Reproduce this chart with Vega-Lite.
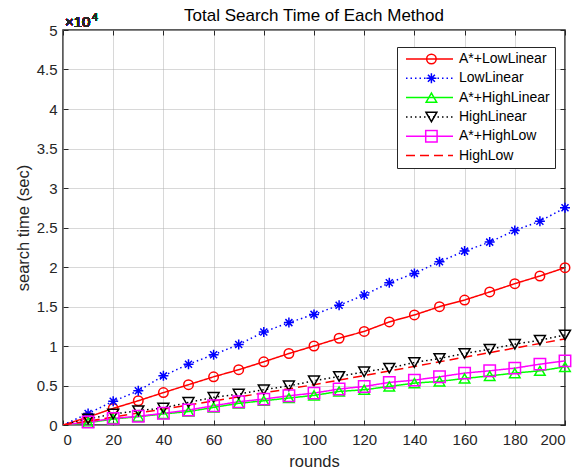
{
  "$schema": "https://vega.github.io/schema/vega-lite/v6.json",
  "width": 502,
  "height": 395,
  "autosize": {"type": "none"},
  "padding": {"left": 63, "top": 30, "right": 22, "bottom": 50},
  "background": "white",
  "title": {"text": "Total Search Time of Each Method", "fontSize": 17, "fontWeight": "normal", "font": "Liberation Sans", "color": "#000000", "offset": -12, "anchor": "middle"},
  "config": {
    "view": {"stroke": "#262626", "strokeWidth": 1.5},
    "font": "Liberation Sans"
  },
  "datasets": {
    "d": [
      {"method": "A*+LowLinear", "rounds": 0, "time": 0},
      {"method": "A*+LowLinear", "rounds": 10, "time": 1000},
      {"method": "A*+LowLinear", "rounds": 20, "time": 2100},
      {"method": "A*+LowLinear", "rounds": 30, "time": 3070},
      {"method": "A*+LowLinear", "rounds": 40, "time": 4100},
      {"method": "A*+LowLinear", "rounds": 50, "time": 5100},
      {"method": "A*+LowLinear", "rounds": 60, "time": 6100},
      {"method": "A*+LowLinear", "rounds": 70, "time": 7000},
      {"method": "A*+LowLinear", "rounds": 80, "time": 8000},
      {"method": "A*+LowLinear", "rounds": 90, "time": 9050},
      {"method": "A*+LowLinear", "rounds": 100, "time": 10000},
      {"method": "A*+LowLinear", "rounds": 110, "time": 10980},
      {"method": "A*+LowLinear", "rounds": 120, "time": 11850},
      {"method": "A*+LowLinear", "rounds": 130, "time": 13050},
      {"method": "A*+LowLinear", "rounds": 140, "time": 13930},
      {"method": "A*+LowLinear", "rounds": 150, "time": 14980},
      {"method": "A*+LowLinear", "rounds": 160, "time": 15820},
      {"method": "A*+LowLinear", "rounds": 170, "time": 16840},
      {"method": "A*+LowLinear", "rounds": 180, "time": 17890},
      {"method": "A*+LowLinear", "rounds": 190, "time": 18860},
      {"method": "A*+LowLinear", "rounds": 200, "time": 19910},
      {"method": "LowLinear", "rounds": 0, "time": 0},
      {"method": "LowLinear", "rounds": 10, "time": 1450},
      {"method": "LowLinear", "rounds": 20, "time": 3000},
      {"method": "LowLinear", "rounds": 30, "time": 4330},
      {"method": "LowLinear", "rounds": 40, "time": 6220},
      {"method": "LowLinear", "rounds": 50, "time": 7700},
      {"method": "LowLinear", "rounds": 60, "time": 8900},
      {"method": "LowLinear", "rounds": 70, "time": 10180},
      {"method": "LowLinear", "rounds": 80, "time": 11780},
      {"method": "LowLinear", "rounds": 90, "time": 12960},
      {"method": "LowLinear", "rounds": 100, "time": 14000},
      {"method": "LowLinear", "rounds": 110, "time": 15150},
      {"method": "LowLinear", "rounds": 120, "time": 16450},
      {"method": "LowLinear", "rounds": 130, "time": 18000},
      {"method": "LowLinear", "rounds": 140, "time": 19190},
      {"method": "LowLinear", "rounds": 150, "time": 20670},
      {"method": "LowLinear", "rounds": 160, "time": 22010},
      {"method": "LowLinear", "rounds": 170, "time": 23150},
      {"method": "LowLinear", "rounds": 180, "time": 24620},
      {"method": "LowLinear", "rounds": 190, "time": 25800},
      {"method": "LowLinear", "rounds": 200, "time": 27490},
      {"method": "A*+HighLinear", "rounds": 0, "time": 0},
      {"method": "A*+HighLinear", "rounds": 10, "time": 300},
      {"method": "A*+HighLinear", "rounds": 20, "time": 750},
      {"method": "A*+HighLinear", "rounds": 30, "time": 1050},
      {"method": "A*+HighLinear", "rounds": 40, "time": 1400},
      {"method": "A*+HighLinear", "rounds": 50, "time": 1700},
      {"method": "A*+HighLinear", "rounds": 60, "time": 2230},
      {"method": "A*+HighLinear", "rounds": 70, "time": 2740},
      {"method": "A*+HighLinear", "rounds": 80, "time": 3070},
      {"method": "A*+HighLinear", "rounds": 90, "time": 3410},
      {"method": "A*+HighLinear", "rounds": 100, "time": 3750},
      {"method": "A*+HighLinear", "rounds": 110, "time": 4250},
      {"method": "A*+HighLinear", "rounds": 120, "time": 4460},
      {"method": "A*+HighLinear", "rounds": 130, "time": 4880},
      {"method": "A*+HighLinear", "rounds": 140, "time": 5300},
      {"method": "A*+HighLinear", "rounds": 150, "time": 5520},
      {"method": "A*+HighLinear", "rounds": 160, "time": 5890},
      {"method": "A*+HighLinear", "rounds": 170, "time": 6220},
      {"method": "A*+HighLinear", "rounds": 180, "time": 6570},
      {"method": "A*+HighLinear", "rounds": 190, "time": 6860},
      {"method": "A*+HighLinear", "rounds": 200, "time": 7360},
      {"method": "HighLinear", "rounds": 0, "time": 0},
      {"method": "HighLinear", "rounds": 10, "time": 760},
      {"method": "HighLinear", "rounds": 20, "time": 1390},
      {"method": "HighLinear", "rounds": 30, "time": 1810},
      {"method": "HighLinear", "rounds": 40, "time": 2150},
      {"method": "HighLinear", "rounds": 50, "time": 2870},
      {"method": "HighLinear", "rounds": 60, "time": 3500},
      {"method": "HighLinear", "rounds": 70, "time": 3910},
      {"method": "HighLinear", "rounds": 80, "time": 4460},
      {"method": "HighLinear", "rounds": 90, "time": 4960},
      {"method": "HighLinear", "rounds": 100, "time": 5590},
      {"method": "HighLinear", "rounds": 110, "time": 6150},
      {"method": "HighLinear", "rounds": 120, "time": 6730},
      {"method": "HighLinear", "rounds": 130, "time": 7200},
      {"method": "HighLinear", "rounds": 140, "time": 7910},
      {"method": "HighLinear", "rounds": 150, "time": 8420},
      {"method": "HighLinear", "rounds": 160, "time": 9050},
      {"method": "HighLinear", "rounds": 170, "time": 9600},
      {"method": "HighLinear", "rounds": 180, "time": 10230},
      {"method": "HighLinear", "rounds": 190, "time": 10730},
      {"method": "HighLinear", "rounds": 200, "time": 11400},
      {"method": "A*+HighLow", "rounds": 0, "time": 0},
      {"method": "A*+HighLow", "rounds": 10, "time": 380},
      {"method": "A*+HighLow", "rounds": 20, "time": 840},
      {"method": "A*+HighLow", "rounds": 30, "time": 1100},
      {"method": "A*+HighLow", "rounds": 40, "time": 1480},
      {"method": "A*+HighLow", "rounds": 50, "time": 1890},
      {"method": "A*+HighLow", "rounds": 60, "time": 2440},
      {"method": "A*+HighLow", "rounds": 70, "time": 2950},
      {"method": "A*+HighLow", "rounds": 80, "time": 3280},
      {"method": "A*+HighLow", "rounds": 90, "time": 3700},
      {"method": "A*+HighLow", "rounds": 100, "time": 4040},
      {"method": "A*+HighLow", "rounds": 110, "time": 4550},
      {"method": "A*+HighLow", "rounds": 120, "time": 4880},
      {"method": "A*+HighLow", "rounds": 130, "time": 5390},
      {"method": "A*+HighLow", "rounds": 140, "time": 5680},
      {"method": "A*+HighLow", "rounds": 150, "time": 6100},
      {"method": "A*+HighLow", "rounds": 160, "time": 6570},
      {"method": "A*+HighLow", "rounds": 170, "time": 6860},
      {"method": "A*+HighLow", "rounds": 180, "time": 7200},
      {"method": "A*+HighLow", "rounds": 190, "time": 7700},
      {"method": "A*+HighLow", "rounds": 200, "time": 8120},
      {"method": "HighLow", "rounds": 0, "time": 0},
      {"method": "HighLow", "rounds": 10, "time": 500},
      {"method": "HighLow", "rounds": 20, "time": 1000},
      {"method": "HighLow", "rounds": 30, "time": 1510},
      {"method": "HighLow", "rounds": 40, "time": 2020},
      {"method": "HighLow", "rounds": 50, "time": 2530},
      {"method": "HighLow", "rounds": 60, "time": 3040},
      {"method": "HighLow", "rounds": 70, "time": 3550},
      {"method": "HighLow", "rounds": 80, "time": 4060},
      {"method": "HighLow", "rounds": 90, "time": 4580},
      {"method": "HighLow", "rounds": 100, "time": 5100},
      {"method": "HighLow", "rounds": 110, "time": 5680},
      {"method": "HighLow", "rounds": 120, "time": 6260},
      {"method": "HighLow", "rounds": 130, "time": 6840},
      {"method": "HighLow", "rounds": 140, "time": 7420},
      {"method": "HighLow", "rounds": 150, "time": 8000},
      {"method": "HighLow", "rounds": 160, "time": 8580},
      {"method": "HighLow", "rounds": 170, "time": 9160},
      {"method": "HighLow", "rounds": 180, "time": 9740},
      {"method": "HighLow", "rounds": 190, "time": 10320},
      {"method": "HighLow", "rounds": 200, "time": 10900}
    ]
  },
  "data": {"name": "d"},
  "layer": [
    {
      "mark": {"type": "line", "strokeWidth": 1.5, "clip": true},
      "encoding": {
        "x": {
          "field": "rounds", "type": "quantitative",
          "scale": {"domain": [0, 200], "nice": false, "zero": false},
          "axis": {
            "orient": "bottom", "values": [0, 20, 40, 60, 80, 100, 120, 140, 160, 180, 200],
            "grid": true, "gridColor": "#b0b0b0", "gridDash": [1, 1], "gridWidth": 1,
            "domain": false, "tickSize": -5, "tickColor": "#262626", "tickWidth": 1,
            "labelFontSize": 15, "labelColor": "#262626", "labelPadding": 12, "labelFont": "Liberation Sans",
            "title": "rounds", "titleFontSize": 16.5, "titleFontWeight": "normal", "titleColor": "#262626",
            "titleFont": "Liberation Sans", "titlePadding": 6
          }
        },
        "y": {
          "field": "time", "type": "quantitative",
          "scale": {"domain": [0, 50000], "nice": false},
          "axis": {
            "orient": "left", "values": [0, 5000, 10000, 15000, 20000, 25000, 30000, 35000, 40000, 45000, 50000],
            "labelExpr": "format(datum.value / 10000, '~g')",
            "grid": true, "gridColor": "#b0b0b0", "gridDash": [1, 1], "gridWidth": 1,
            "domain": false, "tickSize": -5, "tickColor": "#262626", "tickWidth": 1,
            "labelFontSize": 15, "labelColor": "#262626", "labelPadding": 11, "labelFont": "Liberation Sans",
            "title": "search time (sec)", "titleFontSize": 16.5, "titleFontWeight": "normal", "titleColor": "#262626",
            "titleFont": "Liberation Sans", "titlePadding": 5
          }
        },
        "color": {
          "field": "method", "type": "nominal",
          "scale": {"domain": ["A*+LowLinear", "LowLinear", "A*+HighLinear", "HighLinear", "A*+HighLow", "HighLow"],
                    "range": ["#ff0000", "#0000ff", "#00ff00", "#000000", "#ff00ff", "#ff0000"]},
          "legend": {
            "orient": "none", "legendX": 334, "legendY": 17, "title": null,
            "symbolType": "stroke", "symbolSize": 2209, "symbolStrokeWidth": 1.5, "symbolOffset": 3,
            "labelFontSize": 14, "labelFont": "Liberation Sans", "labelColor": "#000000", "labelOffset": 5,
            "padding": 5, "strokeColor": "#262626", "fillColor": "white", "clipHeight": 14, "rowPadding": 5.3
          }
        },
        "strokeDash": {
          "field": "method", "type": "nominal",
          "scale": {"domain": ["A*+LowLinear", "LowLinear", "A*+HighLinear", "HighLinear", "A*+HighLow", "HighLow"],
                    "range": [[1, 0], [1.5, 3], [1, 0], [1.5, 3], [1, 0], [9, 5]]},
          "legend": {
            "orient": "none", "legendX": 334, "legendY": 17, "title": null,
            "symbolType": "stroke", "symbolSize": 2209, "symbolStrokeWidth": 1.5, "symbolOffset": 3,
            "labelFontSize": 14, "labelFont": "Liberation Sans", "labelColor": "#000000", "labelOffset": 5,
            "padding": 5, "strokeColor": "#262626", "fillColor": "white", "clipHeight": 14, "rowPadding": 5.3
          }
        }
      }
    },
    {
      "transform": [{"filter": "datum.rounds > 0 && datum.method != 'HighLow'"}],
      "mark": {"type": "point", "filled": false, "strokeWidth": 1.5, "opacity": 1},
      "encoding": {
        "x": {"field": "rounds", "type": "quantitative", "axis": null},
        "y": {"field": "time", "type": "quantitative", "axis": null},
        "size": {
          "field": "method", "type": "nominal", "legend": null,
          "scale": {"domain": ["A*+LowLinear", "LowLinear", "A*+HighLinear", "HighLinear", "A*+HighLow", "HighLow"],
                    "range": [90, 140, 100, 100, 64, 1]}
        },
        "color": {
          "field": "method", "type": "nominal",
          "scale": {"domain": ["A*+LowLinear", "LowLinear", "A*+HighLinear", "HighLinear", "A*+HighLow", "HighLow"],
                    "range": ["#ff0000", "#0000ff", "#00ff00", "#000000", "#ff00ff", "#ff0000"]},
          "legend": {
            "orient": "none", "legendX": 356.4, "legendY": 17, "title": null,
            "symbolSize": 70, "symbolStrokeWidth": 1.5,
            "labelFontSize": 14, "labelFont": "Liberation Sans", "labelOpacity": 0, "labelOffset": 3,
            "padding": 5, "clipHeight": 14, "rowPadding": 5.3
          }
        },
        "shape": {
          "field": "method", "type": "nominal",
          "scale": {"domain": ["A*+LowLinear", "LowLinear", "A*+HighLinear", "HighLinear", "A*+HighLow", "HighLow"],
                    "range": ["circle", "M-1,0L1,0M0,-1L0,1M-0.7,-0.7L0.7,0.7M-0.7,0.7L0.7,-0.7", "triangle-up", "triangle-down", "square", "M0,0L0,0"]},
          "legend": {
            "orient": "none", "legendX": 356.4, "legendY": 17, "title": null,
            "symbolSize": 70, "symbolStrokeWidth": 1.5,
            "labelFontSize": 14, "labelFont": "Liberation Sans", "labelOpacity": 0, "labelOffset": 3,
            "padding": 5, "clipHeight": 14, "rowPadding": 5.3
          }
        }
      }
    },
    {
      "mark": {"type": "text", "text": "×10", "align": "left", "baseline": "alphabetic", "dx": 2, "dy": -3, "fontSize": 15, "font": "Liberation Sans", "color": "#262626"},
      "encoding": {
        "x": {"datum": 0, "type": "quantitative",
              "axis": {"orient": "top", "values": [0, 20, 40, 60, 80, 100, 120, 140, 160, 180, 200], "labels": false, "grid": false, "domain": false, "tickSize": -5, "tickColor": "#262626", "tickWidth": 1, "title": null}},
        "y": {"datum": 50000, "type": "quantitative",
              "axis": {"orient": "right", "values": [0, 5000, 10000, 15000, 20000, 25000, 30000, 35000, 40000, 45000, 50000], "labels": false, "grid": false, "domain": false, "tickSize": -5, "tickColor": "#262626", "tickWidth": 1, "title": null}}
      }
    },
    {
      "mark": {"type": "text", "text": "4", "align": "left", "baseline": "alphabetic", "dx": 29, "dy": -9, "fontSize": 10.5, "font": "Liberation Sans", "color": "#262626"},
      "encoding": {
        "x": {"datum": 0, "type": "quantitative", "axis": null},
        "y": {"datum": 50000, "type": "quantitative", "axis": null}
      }
    }
  ],
  "resolve": {
    "scale": {"color": "independent", "strokeDash": "independent", "shape": "independent", "size": "independent"},
    "axis": {"x": "independent", "y": "independent"}
  }
}
